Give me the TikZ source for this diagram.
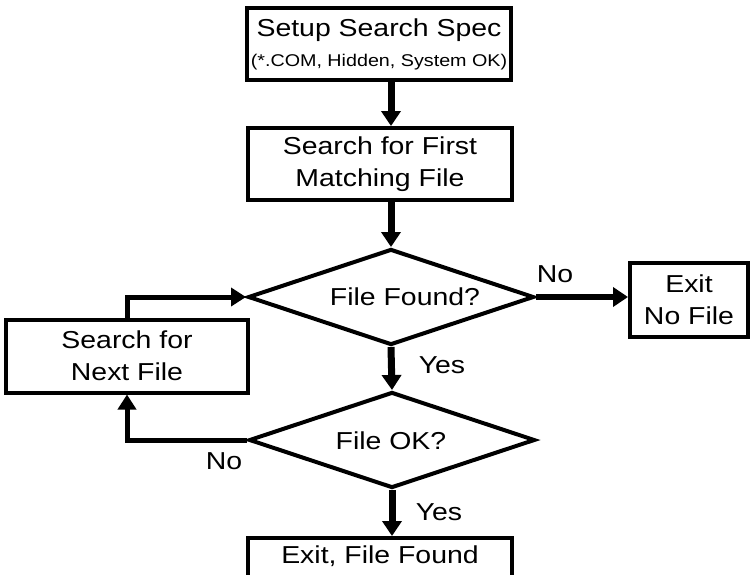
\documentclass[tikz,border=0pt]{standalone}
\usepackage{fontspec}
\setmainfont{Liberation Sans}[FakeStretch=1.16]
\usetikzlibrary{shapes.geometric,arrows.meta}
\begin{document}
\begin{tikzpicture}[x=1pt,y=-1pt,
  box/.style={draw,line width=4pt,rectangle,inner sep=0pt,align=center,font=\fontsize{24.5}{32}\selectfont},
  dia/.style={draw,line width=4pt,diamond,inner sep=0pt,minimum width=286pt,minimum height=96pt},
  lbl/.style={font=\fontsize{24.5}{30}\selectfont,inner sep=0pt},
  flow/.style={line width=7pt,-{Triangle[length=15pt,width=19pt]}},
  loop/.style={line width=5pt,-{Triangle[length=15pt,width=18pt]}}]
\path[use as bounding box] (0,0) rectangle (750,574);
\clip (0,0) rectangle (750,574);
\node[box,minimum width=264pt,minimum height=72pt] (setup) at (379,44)
  {Setup Search Spec\\[-2pt]{\fontsize{17}{20}\selectfont (*.COM, Hidden, System OK)}};
\node[box,minimum width=264pt,minimum height=72pt] (first) at (380,164)
  {Search for First\\Matching File};
\node[dia] (found) at (391,297) {};
\node[lbl] (foundtxt) at (405,297) {File Found?};
\node[box,minimum width=118pt,minimum height=74pt] (exit) at (689,300) {Exit\\No File};
\node[box,minimum width=242pt,minimum height=73pt] (next) at (127,356) {Search for\\Next File};
\node[dia] (ok) at (392,440) {};
\node[lbl] (oktxt) at (391,441) {File OK?};
\node[box,minimum width=264pt,minimum height=72pt,anchor=north] (final) at (380,536) {};
\node[lbl] (finaltxt) at (380,556) {Exit, File Found};
\node[lbl] (yes1) at (442,365) {Yes};
\node[lbl] (no1) at (555,274) {No};
\node[lbl] (yes2) at (439,512) {Yes};
\node[lbl] (no2) at (224,461) {No};
\draw[flow] (setup.south -| found.north) -- (first.north -| found.north);
\draw[flow] (first.south -| found.north) -- (found.north);
\draw[flow] (found.south) -- (ok.north);
\draw[flow,line width=6pt] (found.east) -- (found.east -| exit.west);
\draw[flow] (ok.south) -- (final.north -| ok.south);
\draw[loop] (ok.west) -| (next.south);
\draw[loop] (next.north) |- (found.west);
\end{tikzpicture}
\end{document}
